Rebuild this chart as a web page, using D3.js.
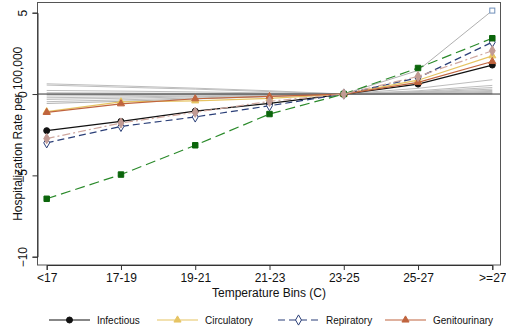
<!DOCTYPE html>
<html><head><meta charset="utf-8">
<script src="https://cdn.jsdelivr.net/npm/d3@7"></script>
<style>
html,body{margin:0;padding:0;background:#fff;}
svg{display:block;font-family:"Liberation Sans",Arial,Helvetica,sans-serif;}
</style></head>
<body><svg id="c" width="506" height="331"></svg>
<script>
const bins = ["<17","17-19","19-21","21-23","23-25","25-27",">=27"];
const yTicks = [5,0,-5,-10];
const infectious    = [-2.25,-1.68,-1.05,-0.58,0,0.61,1.78];
const circulatory   = [-1.08,-0.48,-0.42,-0.27,0,0.85,2.35];
const repiratory    = [-3.0,-1.99,-1.41,-0.72,0,1.0,3.19];
const genitourinary = [-1.13,-0.6,-0.29,-0.15,0,0.72,2.0];
const other1        = [-2.74,-1.78,-1.12,-0.45,0,1.08,2.66];
const other2        = [-6.44,-4.95,-3.15,-1.23,0,1.6,3.43];
const gray1  = [0.63,0.5,0.36,0.2,0,0.35,0.88];
const gray2  = [0.55,0.42,0.3,0.15,0,0.2,0.53];
const gray3  = [0.22,0.18,0.13,0.07,0,0.15,0.4];
const gray4  = [0.08,0.06,0.04,0.02,0,0.12,0.3];
const gray5  = [-0.02,-0.02,-0.01,0,0,0.1,0.22];
const gray6  = [-0.12,-0.09,-0.06,-0.03,0,0.07,0.16];
const gray7  = [-0.23,-0.18,-0.12,-0.06,0,0.05,0.1];
const gray8  = [-0.33,-0.26,-0.17,-0.09,0,0.03,0.05];
const gray9  = [-0.47,-0.36,-0.24,-0.12,0,0.01,0.02];
const gray10 = [-0.58,-0.45,-0.3,-0.15,0,1.45,5.13];
const grays = [gray1,gray2,gray3,gray4,gray5,gray6,gray7,gray8,gray9];
const legendNames = ["Infectious","Circulatory","Repiratory","Genitourinary"];

const svg = d3.select("#c");
const L=37.5, R=500.5, T=2.5, B=265;
const x = d3.scalePoint().domain(bins).range([46.7,492.3]);
const y = d3.scaleLinear().domain([-10,5]).range([256.7,12.7]);
const line = d3.line().x((d,i)=>x(bins[i])).y(d=>y(d));

// gray lines
svg.append("g").selectAll("path").data(grays).join("path")
  .attr("d",line).attr("fill","none").attr("stroke","#bdbdbd").attr("stroke-width",1);
svg.append("path").attr("d",line(gray10)).attr("fill","none").attr("stroke","#b0b0b0").attr("stroke-width",1);

// zero line
svg.append("line").attr("x1",L).attr("x2",R).attr("y1",y(0)).attr("y2",y(0))
  .attr("stroke","#333").attr("stroke-width",1);

// end marker of gray10
svg.append("rect").datum(gray10[gray10.length-1])
  .attr("x",x(bins[6])-2.5).attr("y",d=>y(d)-2.5).attr("width",5).attr("height",5)
  .attr("fill","#fff").attr("stroke","#6f8fba").attr("stroke-width",1);

const series = [
  {v:infectious, c:"#111", dash:null, m:"circle", mf:"#111"},
  {v:circulatory, c:"#e6c463", dash:null, m:"triangle", mf:"#e6c463"},
  {v:repiratory, c:"#2b3f78", dash:"7,4", m:"diamond", mf:"#fff"},
  {v:genitourinary, c:"#c0643e", dash:null, m:"triangle", mf:"#c0643e"},
  {v:other2, c:"#2a8a2a", dash:"10,5", m:"square", mf:"#0b650b"},
  {v:other1, c:"#cfa79e", dash:"8,3,2,3", m:"diamond", mf:"#c29b94"}
];
const symType = {circle:d3.symbolCircle, triangle:d3.symbolTriangle, diamond:d3.symbolDiamond, square:d3.symbolSquare};
const symSize = {circle:28, triangle:22, diamond:30, square:30};

series.forEach(s=>{
  svg.append("path").attr("d",line(s.v)).attr("fill","none").attr("stroke",s.c)
    .attr("stroke-width",1.2).attr("stroke-dasharray",s.dash);
  svg.append("g").selectAll("path").data(s.v).join("path")
    .attr("transform",(d,i)=>`translate(${x(bins[i])},${y(d)})`)
    .attr("d",d3.symbol().type(symType[s.m]).size(symSize[s.m]))
    .attr("fill",s.mf).attr("stroke",s.m==="diamond"&&s.mf==="#fff"?s.c:s.mf).attr("stroke-width",1);
});

// frame
svg.append("rect").attr("x",L).attr("y",T).attr("width",R-L).attr("height",B-T)
  .attr("fill","none").attr("stroke","#555").attr("stroke-width",1);

// axes
const xa = svg.append("g").attr("transform",`translate(0,${B})`)
  .call(d3.axisBottom(x).tickSize(5).tickPadding(3));
xa.select(".domain").attr("stroke","#333");
xa.selectAll("line").attr("stroke","#333");
xa.selectAll("text").attr("font-size",12).attr("fill","#111").attr("font-family","Liberation Sans, Arial, sans-serif");

const ya = svg.append("g").attr("transform",`translate(${L},0)`)
  .call(d3.axisLeft(y).tickValues(yTicks).tickSize(5).tickFormat(d3.format("d")));
ya.select(".domain").attr("stroke","#333");
ya.selectAll("line").attr("stroke","#333");
ya.selectAll("text").attr("font-size",12).attr("fill","#111")
  .attr("font-family","Liberation Sans, Arial, sans-serif")
  .attr("x",0).attr("dy",0).attr("text-anchor","middle")
  .attr("transform","translate(-11,0) rotate(-90)");

// axis titles
svg.append("text").attr("x",269).attr("y",297).attr("text-anchor","middle")
  .attr("font-size",12).attr("fill","#111").text("Temperature Bins (C)");
svg.append("text").attr("transform",`translate(22,${(T+B)/2}) rotate(-90)`).attr("text-anchor","middle")
  .attr("font-size",12).attr("fill","#111").text("Hospitalization Rate per 100,000");

// legend
const legX = [49,157,278,385];
const lg = svg.append("g");
legendNames.forEach((n,i)=>{
  const s = series[i];
  const g = lg.append("g").attr("transform",`translate(${legX[i]},320)`);
  g.append("line").attr("x1",0).attr("x2",41).attr("y1",0).attr("y2",0)
    .attr("stroke",s.c).attr("stroke-width",1.2).attr("stroke-dasharray",s.dash);
  g.append("path").attr("transform","translate(20.5,0)")
    .attr("d",d3.symbol().type(symType[s.m]).size(symSize[s.m]))
    .attr("fill",s.mf).attr("stroke",s.m==="diamond"?s.c:s.mf);
  g.append("text").attr("x",48).attr("y",4).attr("font-size",10).attr("fill","#111").text(n);
});
</script></body></html>
